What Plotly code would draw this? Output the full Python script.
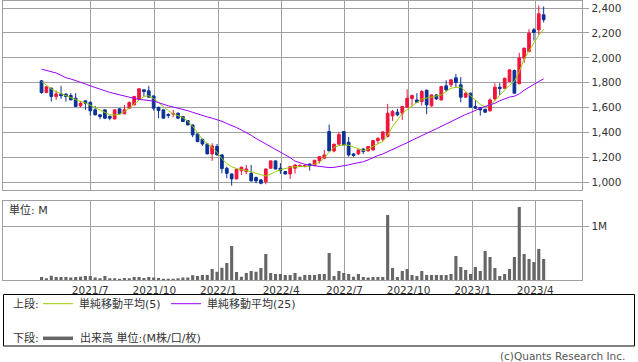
import pandas as pd
import plotly.graph_objects as go

W, H = 638, 362

# ---------------- data (weekly) ----------------
start_date = "2021-04-22"
n_weeks = 104
dates = pd.date_range(start=start_date, periods=n_weeks, freq="7D")

opens = [1815, 1721, 1756, 1689, 1710, 1708, 1697, 1676, 1614, 1654,
         1643, 1582, 1542, 1582, 1530, 1509, 1590, 1550, 1595, 1622,
         1668, 1743, 1735, 1694, 1603, 1582, 1545, 1548, 1555, 1528,
         1496, 1461, 1389, 1346, 1308, 1228, 1287, 1220, 1113, 1067,
         1027, 1094, 1086, 1072, 1038, 1019, 1005, 1113, 1172, 1113,
         1086, 1067, 1113, 1126, 1126, 1147, 1134, 1172, 1193, 1408,
         1252, 1306, 1408, 1321, 1228, 1228, 1268, 1252, 1260, 1335,
         1346, 1367, 1533, 1563, 1555, 1603, 1673, 1662, 1649, 1740,
         1614, 1702, 1662, 1775, 1783, 1839, 1783, 1684, 1716, 1609,
         1600, 1587, 1574, 1670, 1764, 1756, 1810, 1898, 1792, 1997,
         2051, 2225, 2225, 2346]
highs = [1822, 1770, 1760, 1737, 1775, 1716, 1716, 1716, 1654, 1662,
         1648, 1614, 1545, 1585, 1535, 1585, 1595, 1622, 1649, 1695,
         1756, 1745, 1775, 1697, 1606, 1585, 1555, 1582, 1562, 1532,
         1500, 1465, 1392, 1349, 1312, 1314, 1308, 1224, 1126, 1070,
         1108, 1126, 1139, 1139, 1046, 1027, 1110, 1175, 1175, 1153,
         1090, 1129, 1145, 1147, 1145, 1150, 1180, 1209, 1260, 1464,
         1310, 1405, 1412, 1365, 1236, 1262, 1272, 1292, 1340, 1365,
         1410, 1630, 1582, 1590, 1614, 1747, 1705, 1716, 1742, 1745,
         1705, 1708, 1775, 1820, 1830, 1871, 1845, 1722, 1720, 1662,
         1605, 1590, 1675, 1796, 1796, 1840, 1910, 1906, 2040, 2080,
         2231, 2239, 2420, 2413]
lows = [1712, 1718, 1649, 1662, 1670, 1649, 1660, 1605, 1603, 1582,
        1536, 1538, 1507, 1507, 1499, 1505, 1545, 1548, 1590, 1618,
        1665, 1689, 1680, 1576, 1515, 1512, 1515, 1523, 1507, 1485,
        1458, 1362, 1322, 1292, 1225, 1172, 1215, 1072, 1032, 973,
        1024, 1059, 1064, 1008, 992, 984, 984, 1110, 1104, 1067,
        1062, 1027, 1070, 1123, 1120, 1094, 1131, 1150, 1185, 1250,
        1240, 1300, 1296, 1206, 1205, 1220, 1228, 1248, 1255, 1310,
        1330, 1362, 1493, 1530, 1501, 1598, 1614, 1640, 1617, 1547,
        1608, 1662, 1657, 1730, 1765, 1764, 1643, 1678, 1600, 1590,
        1536, 1560, 1568, 1655, 1702, 1750, 1808, 1712, 1788, 1960,
        2045, 2139, 2185, 2284]
closes = [1721, 1767, 1689, 1710, 1695, 1689, 1662, 1609, 1635, 1635,
          1574, 1542, 1528, 1515, 1515, 1582, 1550, 1582, 1641, 1689,
          1751, 1729, 1684, 1595, 1576, 1515, 1536, 1552, 1515, 1488,
          1461, 1381, 1327, 1308, 1228, 1292, 1220, 1110, 1072, 1027,
          1105, 1121, 1107, 1011, 1011, 992, 1107, 1172, 1107, 1094,
          1067, 1126, 1139, 1134, 1134, 1134, 1177, 1206, 1220, 1252,
          1306, 1383, 1300, 1220, 1215, 1260, 1247, 1287, 1335, 1351,
          1405, 1555, 1568, 1542, 1609, 1675, 1697, 1643, 1729, 1622,
          1702, 1670, 1769, 1743, 1823, 1802, 1684, 1716, 1603, 1595,
          1582, 1563, 1662, 1764, 1753, 1836, 1903, 1716, 2000, 2078,
          2198, 2204, 2354, 2306]

ma5 = [1810, 1780, 1750, 1728, 1710, 1695, 1680, 1665, 1648, 1638,
       1618, 1600, 1582, 1560, 1542, 1540, 1547, 1568, 1595, 1630,
       1662, 1690, 1695, 1672, 1640, 1605, 1575, 1550, 1535, 1520,
       1490, 1450, 1400, 1345, 1310, 1280, 1240, 1190, 1150, 1125,
       1110, 1102, 1099, 1085, 1072, 1060, 1051, 1065, 1086, 1100,
       1113, 1120, 1125, 1127, 1126, 1130, 1145, 1160, 1200, 1240,
       1280, 1295, 1300, 1298, 1287, 1270, 1255, 1265, 1290, 1310,
       1327, 1380, 1448, 1500, 1555, 1585, 1609, 1640, 1668, 1678,
       1684, 1692, 1702, 1730, 1756, 1762, 1764, 1730, 1692, 1660,
       1625, 1605, 1620, 1655, 1700, 1743, 1780, 1810, 1890, 1990,
       2060, 2120, 2180, 2231]
ma25 = [1909, 1900, 1890, 1878, 1860, 1840, 1830, 1818, 1805, 1790,
        1775, 1760, 1748, 1735, 1722, 1712, 1702, 1692, 1680, 1670,
        1665, 1662, 1658, 1652, 1640, 1625, 1614, 1605, 1596, 1585,
        1575, 1562, 1548, 1535, 1525, 1515, 1505, 1490, 1472, 1458,
        1440, 1420, 1400, 1378, 1352, 1330, 1310, 1285, 1262, 1240,
        1220, 1198, 1170, 1155, 1145, 1138, 1132, 1126, 1120, 1118,
        1120, 1125, 1134, 1140, 1150, 1158, 1165, 1180, 1200, 1215,
        1228, 1245, 1262, 1280, 1300, 1318, 1338, 1358, 1378, 1394,
        1412, 1430, 1450, 1470, 1490, 1510, 1530, 1545, 1560, 1580,
        1595, 1610, 1620, 1635, 1655, 1672, 1685, 1692, 1710, 1740,
        1765, 1790, 1810, 1830]
volume_m = [0.062, 0.037, 0.087, 0.062, 0.062, 0.062, 0.050, 0.062, 0.068, 0.081,
            0.081, 0.050, 0.037, 0.081, 0.037, 0.037, 0.031, 0.043, 0.037, 0.062,
            0.062, 0.043, 0.062, 0.050, 0.043, 0.031, 0.031, 0.031, 0.037, 0.050,
            0.050, 0.093, 0.081, 0.099, 0.099, 0.211, 0.161, 0.236, 0.323, 0.640,
            0.155, 0.068, 0.137, 0.174, 0.161, 0.230, 0.491, 0.137, 0.118, 0.118,
            0.099, 0.099, 0.137, 0.068, 0.099, 0.099, 0.099, 0.118, 0.118, 0.509,
            0.081, 0.174, 0.137, 0.118, 0.068, 0.118, 0.062, 0.050, 0.062, 0.062,
            0.062, 1.217, 0.230, 0.062, 0.174, 0.211, 0.099, 0.081, 0.174, 0.099,
            0.099, 0.099, 0.099, 0.099, 0.118, 0.453, 0.248, 0.193, 0.118, 0.248,
            0.174, 0.547, 0.435, 0.230, 0.081, 0.118, 0.211, 0.435, 1.366, 0.491,
            0.398, 0.342, 0.584, 0.398]

tick_dates = ["2021-07-01", "2021-10-01", "2022-01-01", "2022-04-01",
              "2022-07-01", "2022-10-01", "2023-01-01", "2023-04-01"]
tick_labels = ["2021/7", "2021/10", "2022/1", "2022/4",
               "2022/7", "2022/10", "2023/1", "2023/4"]
price_ticks = [1000, 1200, 1400, 1600, 1800, 2000, 2200, 2400]

# ---------------- styles ----------------
RED = "#f0143c"
BLUE = "#0a3296"
GREEN = "#99cc00"
PURPLE = "#9900ff"
GRID = "#a0a0a0"
TXT = "#333333"
NUMFONT = "DejaVu Sans"
JPFONT = "Noto Sans CJK JP"


def px(x):
    return x / W


def py(y):
    return 1 - y / H


xdom = [px(3.3), px(582.3)]
xrange_ = ["2021-02-26 02:00", "2023-06-07 12:00"]

fig = go.Figure()
fig.add_trace(go.Candlestick(
    x=dates, open=opens, high=highs, low=lows, close=closes,
    increasing=dict(line=dict(color=RED, width=1), fillcolor=RED),
    decreasing=dict(line=dict(color=BLUE, width=1), fillcolor=BLUE),
    whiskerwidth=0, xaxis="x", yaxis="y", showlegend=False, hoverinfo="skip"))
fig.add_trace(go.Scatter(x=dates, y=ma5, mode="lines", line=dict(color=GREEN, width=1),
                         xaxis="x", yaxis="y", showlegend=False, hoverinfo="skip"))
fig.add_trace(go.Scatter(x=dates, y=ma25, mode="lines", line=dict(color=PURPLE, width=1),
                         xaxis="x", yaxis="y", showlegend=False, hoverinfo="skip"))
fig.add_trace(go.Bar(x=dates, y=volume_m, marker=dict(color="#666666", line=dict(width=0)),
                     xaxis="x2", yaxis="y2", showlegend=False, hoverinfo="skip"))

axis_common = dict(showgrid=True, gridcolor=GRID, gridwidth=1, showline=True,
                   linecolor=GRID, linewidth=1, mirror=True, zeroline=False)

fig.update_layout(
    width=W, height=H, margin=dict(l=0, r=0, t=0, b=0),
    paper_bgcolor="white", plot_bgcolor="white",
    boxgap=0.2, bargap=0.36,
    xaxis=dict(domain=xdom, type="date", range=xrange_, anchor="y",
               tickvals=tick_dates, ticktext=tick_labels, showticklabels=False,
               rangeslider=dict(visible=False), ticks="", **axis_common),
    yaxis=dict(domain=[py(190), py(0.7)], range=[938, 2459], side="right", anchor="x",
               tickvals=price_ticks, tickformat=",", ticks="outside", ticklen=6,
               tickcolor=GRID, tickfont=dict(family=NUMFONT, size=10.5, color=TXT),
               **axis_common),
    xaxis2=dict(domain=xdom, type="date", range=xrange_, anchor="y2",
                tickvals=tick_dates, ticktext=tick_labels, ticks="",
                tickfont=dict(family=NUMFONT, size=10.5, color=TXT), **axis_common),
    yaxis2=dict(domain=[py(280.3), py(201)], range=[0, 1.478], side="right", anchor="x2",
                tickvals=[1], ticktext=["1M"], ticks="outside", ticklen=6,
                tickcolor=GRID, tickfont=dict(family=NUMFONT, size=10.5, color=TXT),
                **axis_common),
    showlegend=False,
)

shapes = [
    dict(type="rect", xref="paper", yref="paper", x0=px(3.5), x1=px(634.5),
         y0=py(346), y1=py(294.5), line=dict(color="black", width=1)),
    dict(type="line", xref="paper", yref="paper", x0=px(43), x1=px(73),
         y0=py(303.7), y1=py(303.7), line=dict(color=GREEN, width=1)),
    dict(type="line", xref="paper", yref="paper", x0=px(171), x1=px(201),
         y0=py(303.7), y1=py(303.7), line=dict(color=PURPLE, width=1)),
    dict(type="line", xref="paper", yref="paper", x0=px(43), x1=px(73),
         y0=py(338.3), y1=py(338.3), line=dict(color="#666666", width=3.5)),
]
fig.update_layout(shapes=shapes)

jp = f"{NUMFONT}, {JPFONT}"


def ann(text, x, y, anchor="left", size=11, color=TXT):
    return dict(text=text, x=px(x), y=py(y), xref="paper", yref="paper",
                xanchor=anchor, yanchor="middle", showarrow=False,
                font=dict(family=jp, size=size, color=color))


fig.update_layout(annotations=[
    ann("単位: M", 7, 209.5),
    ann("上段:", 11, 303.7),
    ann("単純移動平均(5)", 77, 303.7),
    ann("単純移動平均(25)", 205, 303.7),
    ann("下段:", 11, 338.3),
    ann("出来高 単位:(M株/口/枚)", 78, 338.3),
    ann("(c)Quants Research Inc.", 627, 355.5, anchor="right", size=10.5, color="#555555"),
])

fig.write_html(
    "out.html",
    config={"displayModeBar": False, "staticPlot": True},
    post_script="document.body.style.margin='0';document.body.style.overflow='hidden';",
)
